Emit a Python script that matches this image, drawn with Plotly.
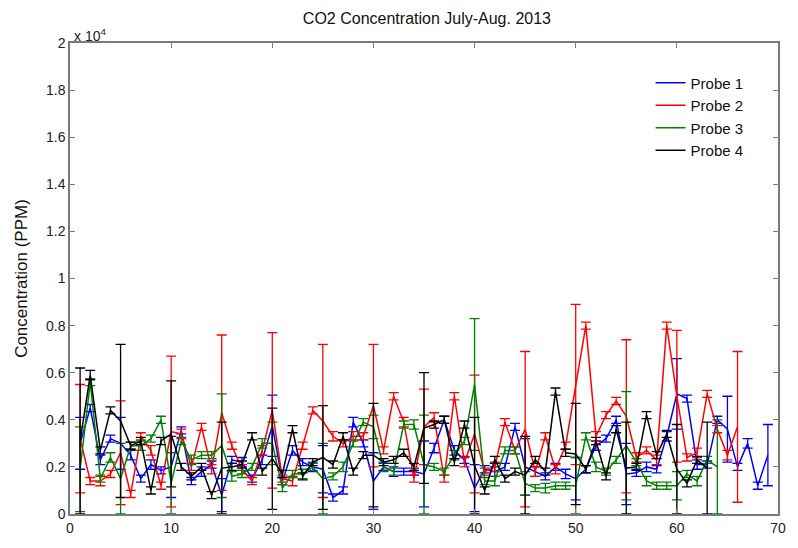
import plotly.graph_objects as go

# CO2 readings (PPM) for each probe, one value per sample index starting at 1
probe1 = [3000, 4500, 2300, 3200, 3000, 2500, 1500, 2100, 1850, 2000,
          3550, 1400, 1800, 2100, 800, 2300, 2200, 1500, 2300, 3750,
          1400, 2700, 2200, 2000, 1900, 700, 1000, 3900, 3000, 1400,
          2000, 1800, 1800, 1800, 1700, 2800, 4000, 2700, 2300, 1100,
          1900, 1800, 2000, 3700, 2000, 1800, 1600, 2000, 1700, 1500,
          1900, 2900, 3200, 4000, 1700, 1750, 2000, 1900, 3300, 5100,
          4900, 2100, 2100, 4000, 3600, 2000, 3000, 1200, 2500]
probe1_err = [1100, 150, 200, 150, 1100, 200, 150, 200, 150, 1300,
              150, 150, 200, 150, 700, 150, 200, 150, 200, 1300,
              150, 200, 150, 200, 1000, 150, 150, 200, 150, 1200,
              150, 200, 150, 150, 1400, 200, 150, 200, 150, 1000,
              150, 200, 150, 150, 1200, 200, 150, 150, 200, 900,
              150, 200, 150, 150, 1300, 150, 200, 150, 200, 1500,
              150, 200, 150, 150, 1400, 150, 200, 150, 1300]

probe2 = [3200, 1400, 1400, 1700, 2600, 850, 3300, 2700, 1200, 3500,
          3400, 2000, 3700, 1900, 4300, 2900, 1900, 1400, 2700, 4400,
          1500, 1400, 2900, 4400, 3950, 3300, 3000, 3300, 3300, 4600,
          2700, 5000, 3900, 1500, 3700, 4100, 1500, 5000, 2200, 3400,
          1800, 2000, 3900, 2700, 3600, 1800, 3300, 1900, 2900, 5500,
          8000, 3300, 4200, 4800, 4150, 2400, 2700, 2300, 8000, 5000,
          2400, 2600, 5100, 3600, 2500, 3700]
probe2_err = [2300, 150, 200, 150, 2200, 150, 150, 200, 150, 3200,
              200, 150, 150, 200, 3300, 150, 200, 150, 200, 3300,
              150, 200, 150, 150, 3250, 200, 150, 200, 150, 2600,
              150, 150, 200, 150, 1600, 200, 150, 150, 200, 2500,
              150, 200, 150, 150, 3300, 200, 150, 200, 150, 3400,
              150, 200, 150, 150, 3250, 200, 150, 200, 150, 2800,
              150, 200, 150, 150, 200, 3200]

probe3 = [1900, 5600, 1500, 2400, 1500, 2900, 2900, 3200, 4000, 1300,
          3100, 2300, 2500, 2500, 2900, 1600, 1700, 2000, 3000, 3000,
          1100, 1700, 1700, 2000, 1500, 1600, 2000, 3000, 3900, 3700,
          2000, 1800, 3800, 3800, 2100, 2000, 1800, 2500, 3100, 5500,
          1400, 1400, 2700, 2700, 1300, 1100, 1100, 1200, 1200, 1200,
          3300, 2000, 1800, 2300, 2900, 2200, 1400, 1200, 1200, 1200,
          1700, 1400, 2300, 2000]
probe3_err = [1800, 150, 150, 200, 1500, 150, 200, 150, 150, 1300,
              150, 200, 150, 150, 2200, 200, 150, 150, 200, 900,
              150, 150, 200, 150, 1500, 150, 200, 150, 150, 500,
              200, 150, 150, 200, 2100, 150, 150, 200, 150, 2800,
              150, 200, 150, 150, 500, 150, 200, 150, 150, 1200,
              150, 200, 150, 150, 2300, 150, 200, 150, 150, 600,
              150, 200, 150, 2000]

probe4 = [3100, 5900, 2700, 4400, 3950, 2900, 3100, 1000, 3100, 3400,
          2000, 1600, 2000, 800, 1950, 2000, 2100, 3300, 1800, 2350,
          1700, 3600, 1600, 2200, 2400, 2100, 3300, 1800, 2500, 2500,
          2200, 2300, 2600, 2000, 3650, 3800, 4000, 2200, 3800, 2050,
          1000, 2300, 1500, 1800, 1650, 2300, 1800, 5200, 2600, 2550,
          1900, 3100, 1600, 3600, 1950, 2000, 4200, 2500, 3400, 1900,
          1300, 2300, 1950]
probe4_err = [3100, 200, 150, 150, 3250, 150, 150, 150, 150, 2250,
              150, 150, 150, 150, 1950, 150, 150, 150, 150, 2150,
              150, 150, 150, 150, 2200, 150, 150, 150, 150, 2200,
              150, 150, 150, 150, 2350, 150, 150, 150, 150, 2050,
              150, 150, 150, 150, 1650, 150, 150, 150, 150, 2150,
              150, 150, 150, 150, 1950, 150, 150, 150, 150, 1900,
              150, 150, 1950]

names = ["Probe 1", "Probe 2", "Probe 3", "Probe 4"]
colors = ["#0000FF", "#FF0000", "#008000", "#000000"]
series = [probe1, probe2, probe3, probe4]
errors = [probe1_err, probe2_err, probe3_err, probe4_err]

y_ticks = [0, 2000, 4000, 6000, 8000, 10000, 12000, 14000, 16000, 18000, 20000]
y_tick_text = ["0", "0.2", "0.4", "0.6", "0.8", "1", "1.2", "1.4", "1.6", "1.8", "2"]
x_ticks = [0, 10, 20, 30, 40, 50, 60, 70]

fig = go.Figure()
for name, color, vals, err in zip(names, colors, series, errors):
    fig.add_trace(go.Scatter(
        x=list(range(1, len(vals) + 1)),
        y=vals,
        mode="lines",
        name=name,
        line=dict(color=color, width=1.5),
        error_y=dict(type="data", array=err, symmetric=True,
                     color=color, thickness=1.3, width=5),
    ))

family = "Liberation Sans, Arial, sans-serif"
axis_font = dict(family=family, size=14, color="#222222")
frame = "#7a7a7a"

fig.update_layout(
    width=798, height=548,
    margin=dict(l=70, r=16, t=43, b=21),
    paper_bgcolor="white", plot_bgcolor="white",
    title=dict(text="CO2 Concentration July-Aug. 2013", x=0.535, xanchor="center",
               y=0.967, yanchor="middle",
               font=dict(family=family, size=16, color="#111111")),
    showlegend=True,
    legend=dict(x=0.82, y=0.95, xanchor="left", yanchor="top",
                bgcolor="rgba(255,255,255,0)", borderwidth=0,
                font=dict(family=family, size=15, color="#111111"),
                tracegroupgap=0, itemwidth=30),
    xaxis=dict(range=[0, 70], tickvals=x_ticks, ticks="inside", ticklen=5,
               tickcolor=frame, showline=True, linecolor=frame, linewidth=1.5,
               mirror="ticks", showgrid=False, zeroline=False, tickfont=axis_font),
    yaxis=dict(range=[0, 20000], tickvals=y_ticks, ticktext=y_tick_text,
               ticks="inside", ticklen=5, tickcolor=frame, showline=True,
               linecolor=frame, linewidth=1.5, mirror="ticks", showgrid=False,
               zeroline=False, tickfont=axis_font,
               title=dict(text="Concentration (PPM)", standoff=14,
                          font=dict(family=family, size=17, color="#111111"))),
    annotations=[dict(text="x 10<sup>4</sup>", xref="paper", yref="paper",
                      x=0.0, y=1.0, xanchor="left", yanchor="bottom",
                      showarrow=False, xshift=2, yshift=-3,
                      font=dict(family=family, size=14, color="#222222"))],
)

fig.write_html("out.html")
